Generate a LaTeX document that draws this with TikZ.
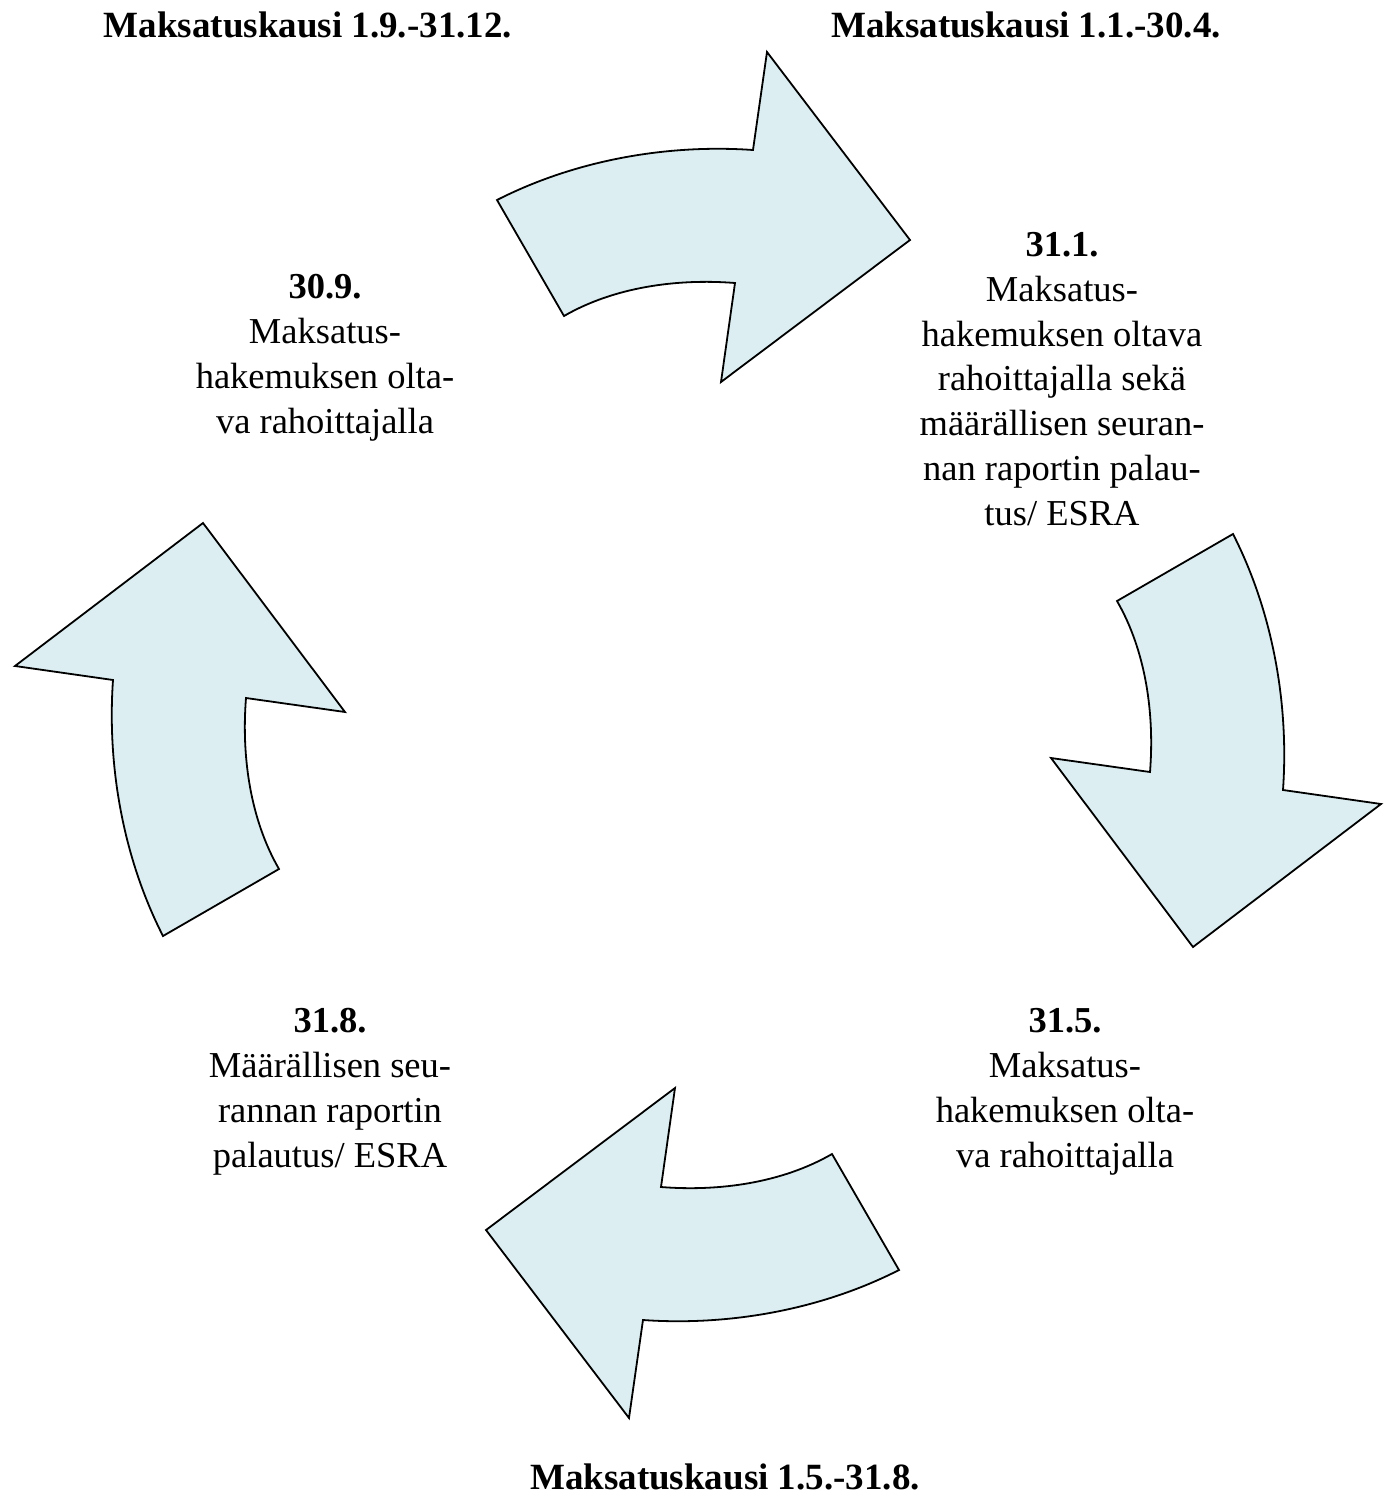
\documentclass[tikz,border=0pt]{standalone}
\usepackage{fontspec}
\setmainfont{Liberation Serif}
\usepackage{tikz}
\definecolor{arrowfill}{RGB}{220,238,241}
\tikzset{
    blockarrow/.style={draw=black, fill=arrowfill, line width=1.8pt},
    datetext/.style={align=center, anchor=base, inner sep=0pt, font=\fontsize{36.5}{44.7}\selectfont},
    periodtitle/.style={anchor=base, inner sep=0pt, font=\fontsize{37}{44.7}\selectfont\bfseries}
}
\begin{document}
\begin{tikzpicture}[x=1pt, y=-1pt]
    \useasboundingbox (0,0) rectangle (1392,1508);

    % Curved arrows round the centre of the cycle
    \foreach \ang in {0,-90,180,90}{
        \begin{scope}[shift={(698,735)}, rotate=\ang]
            \draw[blockarrow] (-201,-535) .. controls (-123.5,-574.5) and (-31.8,-591.1) .. (55,-585)
                -- (69,-683) -- (212,-495) -- (23,-353) -- (37,-452)
                .. controls (-20.8,-456.6) and (-83.8,-448) .. (-134,-419) -- cycle;
        \end{scope}
    }

    % Payment periods
    \node[periodtitle] (kausisep) at (308,37) {Maksatuskausi 1.9.-31.12.};
    \node[periodtitle] (kausijan) at (1026,37) {Maksatuskausi 1.1.-30.4.};
    \node[periodtitle] (kausimay) at (725,1489) {Maksatuskausi 1.5.-31.8.};

    % Deadlines (anchored at the last line)
    \node[datetext] (jan) at (1062,525) {\textbf{31.1.}\\ Maksatus-\\ hakemuksen oltava\\ rahoittajalla sekä\\ määrällisen seuran-\\ nan raportin palau-\\ tus/ ESRA};
    \node[datetext] (may) at (1065,1167) {\textbf{31.5.}\\ Maksatus-\\ hakemuksen olta-\\ va rahoittajalla};
    \node[datetext] (aug) at (330,1167) {\textbf{31.8.}\\ Määrällisen seu-\\ rannan raportin\\ palautus/ ESRA};
    \node[datetext] (sep) at (325,433) {\textbf{30.9.}\\ Maksatus-\\ hakemuksen olta-\\ va rahoittajalla};
\end{tikzpicture}
\end{document}
